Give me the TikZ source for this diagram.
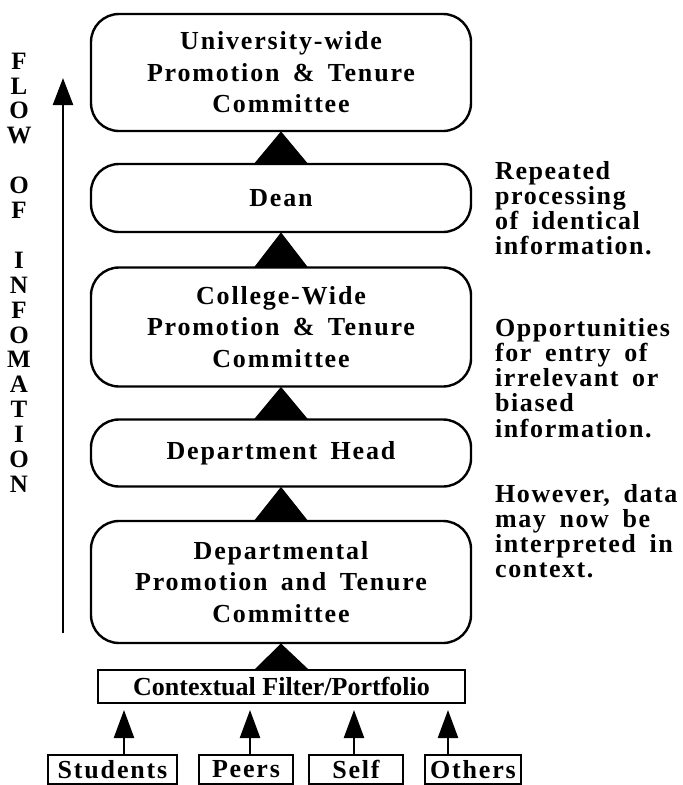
\documentclass[tikz,border=0pt]{standalone}
\usepackage{fontspec}
\setmainfont{Liberation Serif}
\newfontfamily\bxfont{Liberation Serif Bold}[LetterSpace=7,WordSpace=1.6]
\newfontfamily\sidefont{Liberation Serif Bold}[LetterSpace=6,WordSpace=1.7]
\newfontfamily\ctxfont{Liberation Serif Bold}
\usetikzlibrary{arrows.meta,calc}
\begin{document}
\begin{tikzpicture}[x=1pt,y=-1pt,
  lw/.style={line width=2.4pt},
  pbox/.style={lw,draw,rounded corners=28pt,minimum width=380pt,align=center,inner sep=0pt,
    font=\bxfont\fontsize{26}{31.5}\selectfont},
  sbox/.style={draw,line width=2.6pt,inner sep=0pt,align=center,
    font=\bxfont\fontsize{26}{28}\selectfont},
  tri/.style={fill=black,draw=black,line width=1pt,line join=miter},
  arr/.style={lw,-{Triangle[length=28pt,width=20pt]}},
  letter/.style={font=\ctxfont\fontsize{25}{26}\selectfont,inner sep=0pt},
  side/.style={font=\sidefont\fontsize{26}{25.2}\selectfont,align=left,anchor=north west,inner sep=0pt}]
\useasboundingbox (0,0) rectangle (683,785);

% main boxes
\node[pbox,minimum height=117pt] (univ) at (281,72.5) {University-wide\\Promotion \& Tenure\\Committee};
\node[pbox,minimum height=68pt] (dean) at (281,198) {Dean};
\node[pbox,minimum height=119pt] (coll) at (281,327) {College-Wide\\Promotion \& Tenure\\Committee};
\node[pbox,minimum height=67pt] (head) at (281,453) {Department Head};
\node[pbox,minimum height=122pt] (dept) at (281,582) {Departmental\\Promotion and Tenure\\Committee};

% contextual filter
\node[sbox,font=\ctxfont\fontsize{26}{28}\selectfont,minimum width=367pt,minimum height=33pt] (ctx) at (281.5,686.5) {Contextual Filter/Portfolio};

% source boxes
\node[sbox,minimum width=129pt,minimum height=29pt] (stu) at (112.5,769.5) {Students};
\node[sbox,minimum width=94pt,minimum height=29pt] (peer) at (246,769.5) {Peers};
\node[sbox,minimum width=94pt,minimum height=29pt] (self) at (356,769.5) {Self};
\node[sbox,minimum width=96pt,minimum height=29pt] (oth) at (473,769.5) {Others};

% triangles between boxes
\foreach \lo/\up in {dean/univ,coll/dean,head/coll,dept/head,ctx/dept}{
  \fill[tri] ($(\lo.north)+(-25.5,0)$) -- (\up.south) -- ($(\lo.north)+(25.5,0)$) -- cycle;
}

% source arrows
\coordinate (t1) at (124,710);
\coordinate (t2) at (250,710);
\coordinate (t3) at (354,710);
\coordinate (t4) at (448,710);
\draw[arr] (stu.north -| t1) -- (t1);
\draw[arr] (peer.north -| t2) -- (t2);
\draw[arr] (self.north -| t3) -- (t3);
\draw[arr] (oth.north -| t4) -- (t4);

% flow arrow
\coordinate (fb) at (63,633);
\coordinate (ft) at (63,78);
\draw[lw,-{Triangle[length=27pt,width=20pt]}] (fb) -- (ft);

% vertical letters
\foreach \ch [count=\i from 0] in {F,L,O,W,{},O,F,{},I,N,F,O,M,A,T,I,O,N}{
  \node[letter] (ltr\i) at (19,{61+24.9*\i}) {\ch};
}

% side notes
\node[side] (n1) at (495,161) {Repeated\\processing\\of identical\\information.};
\node[side] (n2) at (495,318) {Opportunities\\for entry of\\irrelevant or\\biased\\information.};
\node[side] (n3) at (495,484) {However, data\\may now be\\interpreted in\\context.};
\end{tikzpicture}
\end{document}
